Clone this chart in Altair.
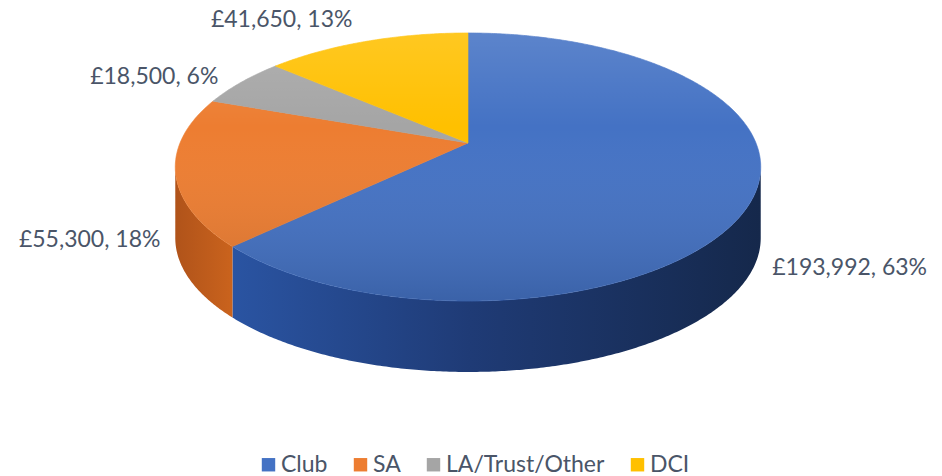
import math
import altair as alt
import pandas as pd

# ---- data ----
CATS = ["Club", "SA", "LA/Trust/Other", "DCI"]
VALUES = [193992, 55300, 18500, 41650]
COLORS = ["#4472C4", "#ED7D31", "#A5A5A5", "#FFC000"]

# ---- styles / geometry of the 3-D view ----
CX, CY = 468, 143        # projected pie centre
RX, RY = 288, 129.7      # ellipse radii
K = 0.179                # perspective factor
DEPTH = 71               # thickness of the pie
FONT = "Lato"
TEXT_COLOR = "#4A5568"
LABEL_NUDGE = [(19, 71, "left"), (-15, 69, "right"), (-23, -5, "right"), (-14, -21, "right")]

total = sum(VALUES)
cum = [0.0]
for v in VALUES:
    cum.append(cum[-1] + v / total * 360.0)


def pt(theta, down=0.0):
    t = math.radians(theta)
    u, v = math.sin(t), math.cos(t)
    w = 1 + K * v
    return [RX * u / w, -RY * v / w + down]


def arc(a0, a1, down=0.0, step=0.5):
    n = max(2, int(abs(a1 - a0) / step) + 1)
    return [pt(a0 + (a1 - a0) * i / (n - 1), down) for i in range(n)]


sil = math.degrees(math.acos(-K))
S1, S2 = sil, 360 - sil

top_feats, side_feats = [], {}
for i, c in enumerate(CATS):
    a0, a1 = cum[i], cum[i + 1]
    ring = [[0, 0]] + arc(a0, a1) + [[0, 0]]
    top_feats.append({"type": "Feature", "properties": {"cat": c},
                      "geometry": {"type": "Polygon", "coordinates": [ring]}})
    lo, hi = max(a0, S1), min(a1, S2)
    if lo < hi:
        t = arc(lo, hi)
        b = arc(lo, hi, DEPTH)[::-1]
        ring = t + b + [t[0]]
        side_feats[c] = [{"type": "Feature", "properties": {"cat": c},
                          "geometry": {"type": "Polygon", "coordinates": [ring]}}]

ellipse = arc(0, 360)
overlay_feat = [{"type": "Feature", "properties": {"cat": "all"},
                 "geometry": {"type": "Polygon", "coordinates": [ellipse + [ellipse[0]]]}}]

proj = dict(type="identity", scale=1, translate=[CX, CY])

side_grad = {
    "Club": {"gradient": "linear", "x1": 0, "x2": 1, "y1": 0, "y2": 0,
             "stops": [{"offset": 0, "color": "#2A54A2"},
                       {"offset": 0.45, "color": "#1F3B76"},
                       {"offset": 1, "color": "#15284B"}]},
    "SA": {"gradient": "linear", "x1": 0, "x2": 1, "y1": 0, "y2": 0,
           "stops": [{"offset": 0, "color": "#B0531A"},
                     {"offset": 1, "color": "#CA631D"}]},
}

layers = []
for c, feats in side_feats.items():
    layers.append(
        alt.Chart(alt.Data(values=feats)).mark_geoshape(
            fill=side_grad.get(c, "#555555"), strokeWidth=0
        ).project(**proj)
    )

top = alt.Chart(alt.Data(values=top_feats)).mark_geoshape(strokeWidth=0.6).encode(
    color=alt.Color("properties.cat:N",
                    scale=alt.Scale(domain=CATS, range=COLORS),
                    sort=CATS,
                    legend=alt.Legend(title=None, orient="none", direction="horizontal",
                                      legendX=257, legendY=453,
                                      symbolType="square", symbolSize=180,
                                      symbolStrokeWidth=0,
                                      labelFont=FONT, labelFontSize=23, labelLimit=400,
                                      labelColor=TEXT_COLOR, columnPadding=21,
                                      labelOffset=1, padding=0)),
    stroke=alt.Stroke("properties.cat:N",
                      scale=alt.Scale(domain=CATS, range=COLORS), legend=None),
).project(**proj)
layers.append(top)

overlay = alt.Chart(alt.Data(values=overlay_feat)).mark_geoshape(
    strokeWidth=0,
    fill={"gradient": "linear", "x1": 0, "x2": 0, "y1": 0, "y2": 1,
          "stops": [{"offset": 0, "color": "rgba(255,255,255,0.13)"},
                    {"offset": 0.35, "color": "rgba(255,255,255,0.0)"},
                    {"offset": 1, "color": "rgba(0,0,0,0.14)"}]},
).project(**proj)
layers.append(overlay)

rows = []
for i, (c, v) in enumerate(zip(CATS, VALUES)):
    mid = (cum[i] + cum[i + 1]) / 2
    x, y = pt(mid)
    dx, dy, al = LABEL_NUDGE[i]
    rows.append({"cat": c, "lon": x + dx, "lat": y + dy, "align": al,
                 "label": f"£{v:,}, {round(100 * v / total)}%"})
lab = pd.DataFrame(rows)

for al in ["left", "right"]:
    layers.append(
        alt.Chart(lab).transform_filter(alt.datum.align == al).mark_text(
            align=al, baseline="middle", font=FONT, fontSize=23, color=TEXT_COLOR
        ).encode(longitude="lon:Q", latitude="lat:Q", text="label:N").project(**proj)
    )

chart = alt.layer(*layers).properties(
    width=942, height=476,
    autosize=alt.AutoSizeParams(type="none"),
    padding=0,
).configure_view(stroke=None).configure(background="white")

chart.save("out.html", embed_options={"renderer": "svg", "actions": False})
